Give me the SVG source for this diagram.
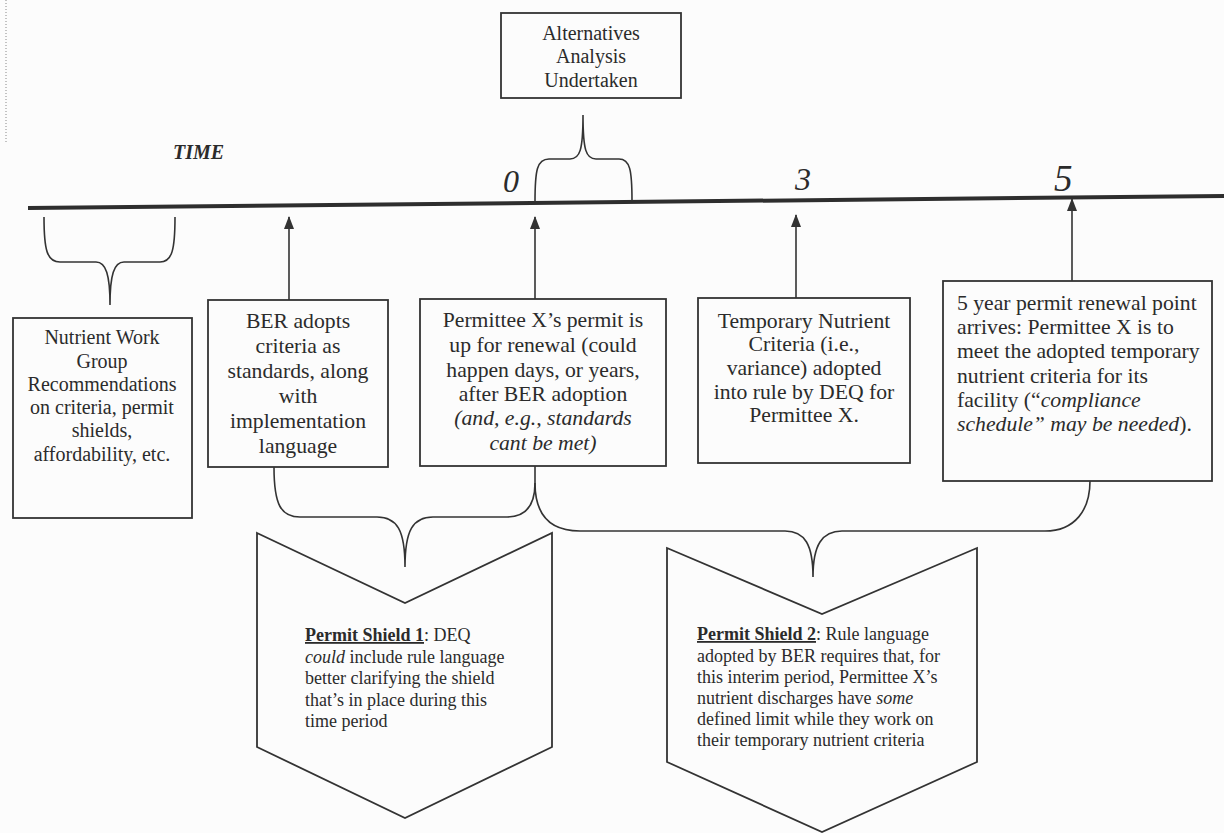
<svg xmlns="http://www.w3.org/2000/svg" width="1224" height="833" viewBox="0 0 1224 833">
<style>
text{font-family:"Liberation Serif","Times New Roman",serif;fill:#2b2b2b}
.box{fill:none;stroke:#333;stroke-width:1.8}
.ln{fill:none;stroke:#333;stroke-width:1.6}
.t20{font-size:20px;text-anchor:middle}
.t22{font-size:21.7px;text-anchor:middle}
.t22l{font-size:21.7px}
.t18{font-size:18px}
.i{font-style:italic}
.b{font-weight:bold;text-decoration:underline}
.num{font-style:italic;font-size:32px}
</style>
<defs>
<marker id="ah" markerWidth="13" markerHeight="11" refX="12" refY="5.5" orient="auto" markerUnits="userSpaceOnUse" viewBox="0 0 13 11">
<path d="M0,0.5 L13,5.5 L0,10.5 Z" fill="#333"/>
</marker>
</defs>
<rect width="1224" height="833" fill="#fcfcfc"/>
<line x1="6" y1="0" x2="6" y2="143" stroke="#888" stroke-width="1" stroke-dasharray="1,2"/>

<g id="timeline">
<line x1="28" y1="208" x2="1224" y2="196" stroke="#2e2e2e" stroke-width="4"/>
<text x="173" y="159" style="font-size:20px;font-weight:bold;font-style:italic">TIME</text>
<text class="num" x="503" y="192">0</text>
<text class="num" x="795" y="190">3</text>
<text x="1054" y="191" style="font-size:37px;font-style:italic">5</text>
</g>

<g id="connectors">
<line class="ln" x1="289" y1="300" x2="289" y2="217" marker-end="url(#ah)"/>
<line class="ln" x1="535" y1="299" x2="535" y2="217" marker-end="url(#ah)"/>
<line class="ln" x1="796" y1="298" x2="796" y2="215" marker-end="url(#ah)"/>
<line class="ln" x1="1072" y1="281" x2="1072" y2="199" marker-end="url(#ah)"/>
<path class="ln" d="M44,217 C44,250 47,262 60,262 L96,262 C106,262 110,275 110,305 C110,275 114,262 124,262 L160,262 C172,262 175,250 175,217"/>
<path class="ln" d="M535,202 C535,170 537,159 549,159 L570,159 C580,159 583,150 583,115 C583,150 586,159 596,159 L619,159 C630,159 632,170 632,201"/>
<path class="ln" d="M274,467 C274,505 281,517 300,517 L377,517 C397,517 405,530 405,567 C405,530 413,517 433,517 L507,517 C526,517 535,505 535,483 L535,466"/>
<path class="ln" d="M535,483 C535,515 550,531 580,531 L785,531 C805,531 813,545 813,577 C813,545 822,531 842,531 L1045,531 C1075,531 1090,510 1090,481"/>
</g>

<g id="alternatives">
<rect class="box" x="501" y="13" width="180" height="85"/>
<text class="t20" x="591" y="40">Alternatives</text>
<text class="t20" x="591" y="63">Analysis</text>
<text class="t20" x="591" y="87">Undertaken</text>
</g>

<g id="nutrient-work-group">
<rect class="box" x="13" y="318" width="179" height="200"/>
<text class="t20" x="102" y="344">Nutrient Work</text>
<text class="t20" x="102" y="368">Group</text>
<text class="t20" x="102" y="391">Recommendations</text>
<text class="t20" x="102" y="414">on criteria, permit</text>
<text class="t20" x="102" y="437">shields,</text>
<text class="t20" x="102" y="461">affordability, etc.</text>
</g>

<g id="ber-adopts">
<rect class="box" x="208" y="300" width="180" height="167"/>
<text class="t22" x="298" y="328">BER adopts</text>
<text class="t22" x="298" y="353">criteria as</text>
<text class="t22" x="298" y="378">standards, along</text>
<text class="t22" x="298" y="403">with</text>
<text class="t22" x="298" y="428">implementation</text>
<text class="t22" x="298" y="453">language</text>
</g>

<g id="permit-renewal">
<rect class="box" x="420" y="299" width="246" height="167"/>
<text class="t22" x="543" y="327">Permittee X’s permit is</text>
<text class="t22" x="543" y="352">up for renewal (could</text>
<text class="t22" x="543" y="377">happen days, or years,</text>
<text class="t22" x="543" y="401">after BER adoption</text>
<text class="t22 i" x="543" y="425">(and, e.g., standards</text>
<text class="t22 i" x="543" y="450">cant be met)</text>
</g>

<g id="temporary-criteria">
<rect class="box" x="698" y="298" width="212" height="165"/>
<text class="t22" x="804" y="328">Temporary Nutrient</text>
<text class="t22" x="804" y="351">Criteria (i.e.,</text>
<text class="t22" x="804" y="375">variance) adopted</text>
<text class="t22" x="804" y="399">into rule by DEQ for</text>
<text class="t22" x="804" y="422">Permittee X.</text>
</g>

<g id="five-year">
<rect class="box" x="943" y="281" width="269" height="200"/>
<text class="t22l" x="957" y="310">5 year permit renewal point</text>
<text class="t22l" x="957" y="334">arrives: Permittee X is to</text>
<text class="t22l" x="957" y="358">meet the adopted temporary</text>
<text class="t22l" x="957" y="383">nutrient criteria for its</text>
<text class="t22l" x="957" y="407">facility (“<tspan class="i">compliance</tspan></text>
<text class="t22l" x="957" y="431"><tspan class="i">schedule” may be needed</tspan>).</text>
</g>

<g id="permit-shield-1">
<polygon class="box" points="257,533 405,603 552,533 552,747 405,818 257,747"/>
<text class="t18" x="305" y="641"><tspan class="b">Permit Shield 1</tspan>: DEQ</text>
<text class="t18" x="305" y="662.5"><tspan class="i">could</tspan> include rule language</text>
<text class="t18" x="305" y="684">better clarifying the shield</text>
<text class="t18" x="305" y="705.5">that’s in place during this</text>
<text class="t18" x="305" y="727">time period</text>
</g>

<g id="permit-shield-2">
<polygon class="box" points="667,548 822,614 977,548 977,762 822,832 667,762"/>
<text class="t18" x="697" y="640"><tspan class="b">Permit Shield 2</tspan>: Rule language</text>
<text class="t18" x="697" y="662">adopted by BER requires that, for</text>
<text class="t18" x="697" y="683">this interim period, Permittee X’s</text>
<text class="t18" x="697" y="703.5">nutrient discharges have <tspan class="i">some</tspan></text>
<text class="t18" x="697" y="724.5">defined limit while they work on</text>
<text class="t18" x="697" y="746">their temporary nutrient criteria</text>
</g>
</svg>
